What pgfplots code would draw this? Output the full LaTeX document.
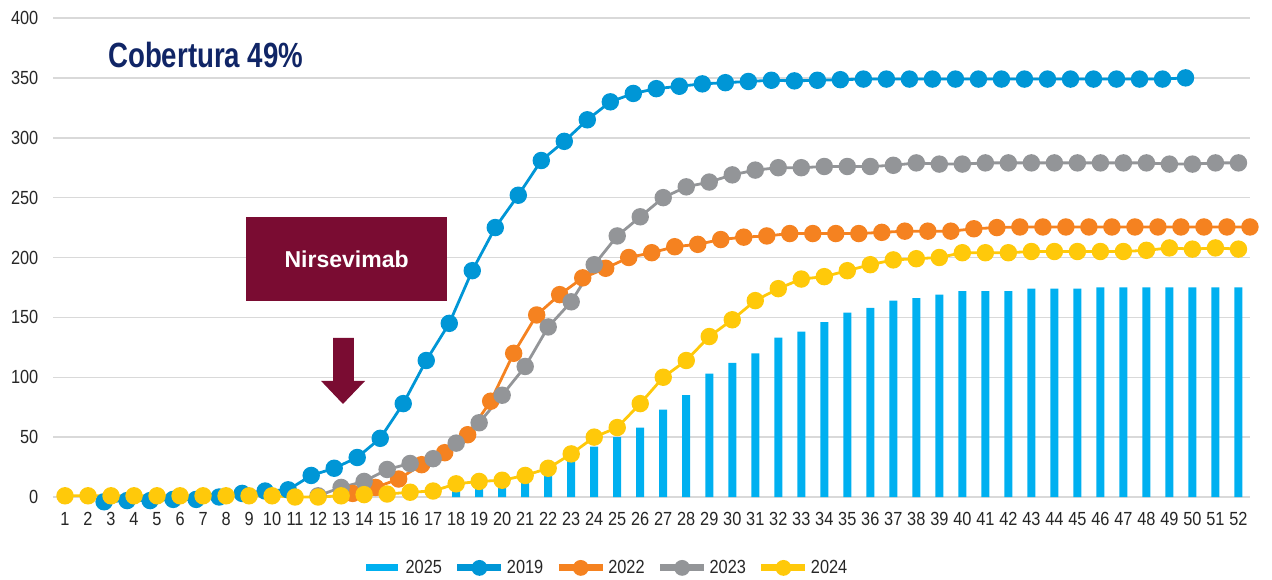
\documentclass[border=0pt]{standalone}
\usepackage{fontspec}
\setmainfont{Liberation Sans}[FakeStretch=0.86]
\newfontfamily\titlefont{Liberation Sans}[FakeStretch=0.79]
\newfontfamily\boxfont{Liberation Sans}
\usepackage{pgfplots}
\pgfplotsset{compat=1.18}
\definecolor{c2025}{RGB}{0,176,240}
\definecolor{c2019}{RGB}{0,150,214}
\definecolor{c2022}{RGB}{245,130,32}
\definecolor{c2023}{RGB}{147,149,152}
\definecolor{c2024}{RGB}{255,201,10}
\definecolor{navyc}{RGB}{16,37,102}
\definecolor{maroonc}{RGB}{122,12,50}
\definecolor{gridc}{RGB}{217,217,217}
\definecolor{labc}{RGB}{38,38,38}
\begin{document}
\begin{tikzpicture}[x=1pt,y=1pt]
\path[use as bounding box] (-53.5,-82) rectangle (1218.5,497);
\begin{axis}[at={(0,0)}, anchor=south west, scale only axis,
  width=1196.5pt, height=479pt,
  xmin=0.5, xmax=52.5, ymin=0, ymax=400,
  ytick={0,50,...,400}, xtick={1,...,52},
  ymajorgrids, grid style={draw=gridc, line width=1.5pt},
  axis x line*=bottom, axis y line*=left, axis line style={draw=none},
  major tick length=0pt,
  /pgf/number format/assume math mode=true,
  tick label style={font=\fontsize{19}{22}\selectfont, text=labc},
  yticklabel style={anchor=east, inner sep=0pt, xshift=-15pt},
  xticklabel style={anchor=north, inner sep=0pt, yshift=-15pt},
  clip=false,
  legend columns=5,
  legend style={at={(0.463,-0.148)}, anchor=center, draw=none, fill=none,
    font=\fontsize{19}{22}\selectfont, text=labc, inner sep=0pt,
    /tikz/every even column/.append style={column sep=10pt}},
]
\addplot[ybar, bar width=8pt, fill=c2025, draw=none,
  legend image code/.code={\fill[c2025] (0pt,-3.5pt) rectangle (32pt,3.5pt); \path (38pt,0pt);}]
coordinates {(18,6) (19,8) (20,10) (21,13) (22,19) (23,31) (24,42) (25,50) (26,58)
 (27,73) (28,85) (29,103) (30,112) (31,120) (32,133) (33,138) (34,146) (35,154)
 (36,158) (37,164) (38,166) (39,169) (40,172) (41,172) (42,172) (43,174) (44,174)
 (45,174) (46,175) (47,175) (48,175) (49,175) (50,175) (51,175) (52,175)};
\addlegendentry{2025}

\addplot[color=c2019, line width=2.8pt, mark=*, mark size=7.3pt,
  mark options={draw=none, fill=c2019},
  legend image code/.code={\draw[c2019, line width=7pt] (0pt,0pt) -- (44pt,0pt); \fill[c2019] (22pt,0pt) circle (6.5pt);}]
coordinates {(2.7,-4) (3.7,-3) (4.7,-3) (5.7,-2) (6.7,-2) (7.7,0) (8.7,3) (9.7,5)
 (10.7,6) (11.7,18) (12.7,24) (13.7,33) (14.7,49) (15.7,78) (16.7,114) (17.7,145)
 (18.7,189) (19.7,225) (20.7,252) (21.7,281) (22.7,297) (23.7,315) (24.7,330)
 (25.7,337) (26.7,341) (27.7,343) (28.7,345) (29.7,346) (30.7,347) (31.7,348)
 (32.7,347.5) (33.7,348) (34.7,348.5) (35.7,349) (36.7,349) (37.7,349) (38.7,349)
 (39.7,349) (40.7,349) (41.7,349) (42.7,349) (43.7,349) (44.7,349) (45.7,349)
 (46.7,349) (47.7,349) (48.7,349) (49.7,350)};
\addlegendentry{2019}

\addplot[color=c2022, line width=2.8pt, mark=*, mark size=7.3pt,
  mark options={draw=none, fill=c2022},
  legend image code/.code={\draw[c2022, line width=7pt] (0pt,0pt) -- (44pt,0pt); \fill[c2022] (22pt,0pt) circle (6.5pt);}]
coordinates {(13.5,3) (14.5,8) (15.5,15) (16.5,27) (17.5,37) (18.5,52) (19.5,80)
 (20.5,120) (21.5,152) (22.5,169) (23.5,183) (24.5,191) (25.5,200) (26.5,204)
 (27.5,209) (28.5,211) (29.5,215) (30.5,217) (31.5,218) (32.5,220) (33.5,220)
 (34.5,220) (35.5,220) (36.5,221) (37.5,222) (38.5,222) (39.5,222) (40.5,224)
 (41.5,225) (42.5,225.5) (43.5,225.5) (44.5,225.5) (45.5,225.5) (46.5,225.5)
 (47.5,225.5) (48.5,225.5) (49.5,225.5) (50.5,225.5) (51.5,225.5) (52.5,225.5)};
\addlegendentry{2022}

\addplot[color=c2023, line width=2.8pt, mark=*, mark size=7.3pt,
  mark options={draw=none, fill=c2023},
  legend image code/.code={\draw[c2023, line width=7pt] (0pt,0pt) -- (44pt,0pt); \fill[c2023] (22pt,0pt) circle (6.5pt);}]
coordinates {(12,1) (13,8) (14,13) (15,23) (16,28) (17,32) (18,45) (19,62) (20,85)
 (21,109) (22,142) (23,163) (24,194) (25,218) (26,234) (27,250) (28,259) (29,263)
 (30,269) (31,273) (32,275) (33,275) (34,276) (35,276) (36,276) (37,277) (38,279)
 (39,278) (40,278) (41,279) (42,279) (43,279) (44,279) (45,279) (46,279) (47,279)
 (48,279) (49,278) (50,278) (51,279) (52,279)};
\addlegendentry{2023}

\addplot[color=c2024, line width=2.8pt, mark=*, mark size=7.3pt,
  mark options={draw=none, fill=c2024},
  legend image code/.code={\draw[c2024, line width=7pt] (0pt,0pt) -- (44pt,0pt); \fill[c2024] (22pt,0pt) circle (6.5pt);}]
coordinates {(1,1) (2,1) (3,1) (4,1) (5,1) (6,1) (7,1) (8,1) (9,1) (10,1) (11,0)
 (12,0) (13,1) (14,2) (15,2.5) (16,4) (17,5) (18,11) (19,13) (20,14) (21,18) (22,24)
 (23,36) (24,50) (25,58) (26,78) (27,100) (28,114) (29,134) (30,148) (31,164)
 (32,174) (33,182) (34,184) (35,189) (36,194) (37,198) (38,199) (39,200) (40,204)
 (41,204) (42,204) (43,205) (44,205) (45,205) (46,205) (47,205) (48,206) (49,208)
 (50,207) (51,208) (52,207)};
\addlegendentry{2024}

\node[anchor=base west, text=navyc, inner sep=0pt,
  font=\titlefont\fontsize{35}{40}\selectfont\bfseries] at (axis cs:2.87,358.3) {Cobertura 49\%};
\fill[maroonc] (axis cs:8.87,163.7) rectangle (axis cs:17.6,233.8);
\node[text=white, font=\boxfont\fontsize{23}{27}\selectfont\bfseries] at (axis cs:13.24,198.7) {Nirsevimab};
\fill[maroonc] (axis cs:12.65,132.8) -- (axis cs:13.56,132.8) -- (axis cs:13.56,96.9)
  -- (axis cs:14.04,96.9) -- (axis cs:13.08,77.7) -- (axis cs:12.13,96.9)
  -- (axis cs:12.65,96.9) -- cycle;
\end{axis}
\end{tikzpicture}
\end{document}
